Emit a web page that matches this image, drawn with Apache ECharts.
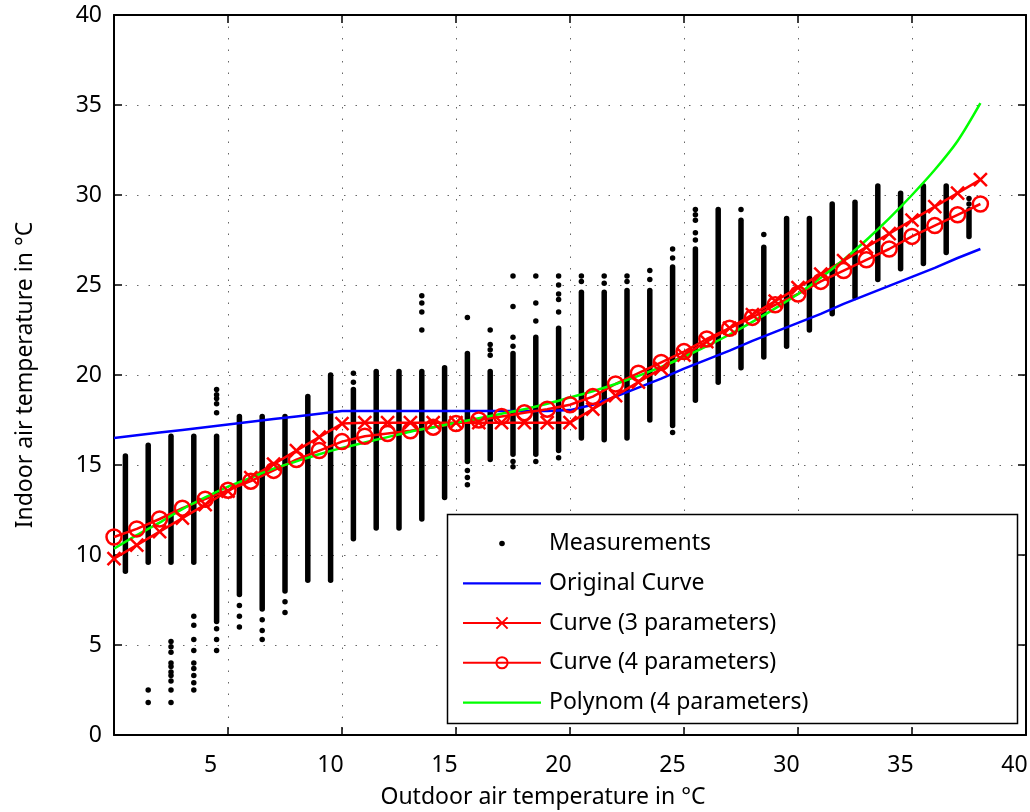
<!DOCTYPE html>
<html><head><meta charset="utf-8">
<script src="https://cdn.jsdelivr.net/npm/echarts@6/dist/echarts.min.js"></script>
<style>html,body{margin:0;padding:0;background:#fff}#c{width:1030px;height:812px}</style>
</head><body><div id="c"></div>
<script>
// ---- data ----
const measX = [0.5,1.5,2.5,3.5,4.5,5.5,6.5,7.5,8.5,9.5,10.5,11.5,12.5,13.5,14.5,15.5,16.5,17.5,18.5,19.5,20.5,21.5,22.5,23.5,24.5,25.5,26.5,27.5,28.5,29.5,30.5,31.5,32.5,33.5,34.5,35.5,36.5,37.5];
const denseLo = [9.1,9.6,9.6,9.6,6.3,7.8,7.0,8.0,8.6,8.6,10.9,11.5,11.5,12.0,13.2,15.2,15.3,15.6,15.6,15.8,16.5,16.4,16.5,17.5,17.2,18.6,19.6,20.4,21.0,21.6,22.5,23.4,24.3,25.3,25.9,26.2,26.8,27.7];
const denseHi = [15.5,16.1,16.6,16.6,16.6,17.7,17.7,17.7,18.8,20.0,19.2,20.2,20.2,20.2,20.4,21.2,20.2,21.2,22.1,22.6,24.6,24.6,24.7,24.7,26.0,27.0,29.2,28.6,27.1,28.7,28.7,29.5,29.6,30.5,30.1,30.5,30.5,29.2];
const outliers = [
  [1.5,2.5],[1.5,1.8],
  [2.5,5.2],[2.5,4.9],[2.5,4.6],[2.5,4.0],[2.5,3.8],[2.5,3.5],[2.5,3.3],[2.5,3.0],[2.5,2.5],[2.5,1.8],
  [3.5,6.6],[3.5,6.1],[3.5,5.3],[3.5,4.7],[3.5,4.0],[3.5,3.7],[3.5,3.3],[3.5,2.9],[3.5,2.5],
  [4.5,19.2],[4.5,18.9],[4.5,18.7],[4.5,18.4],[4.5,17.9],[4.5,5.9],[4.5,5.3],[4.5,4.7],
  [5.5,7.2],[5.5,6.6],[5.5,6.0],
  [6.5,6.4],[6.5,5.8],[6.5,5.3],
  [7.5,7.4],[7.5,6.8],
  [10.5,20.1],[10.5,19.6],
  [13.5,24.4],[13.5,24.0],[13.5,23.5],[13.5,22.5],
  [15.5,23.2],[15.5,14.7],[15.5,14.3],[15.5,13.9],
  [16.5,22.5],[16.5,21.7],[16.5,21.4],[16.5,21.1],
  [17.5,25.5],[17.5,23.8],[17.5,22.1],[17.5,21.6],[17.5,15.2],[17.5,14.9],
  [18.5,25.5],[18.5,24.0],[18.5,23.0],[18.5,15.2],
  [19.5,25.5],[19.5,25.0],[19.5,24.5],[19.5,24.2],[19.5,23.5],[19.5,15.4],
  [20.5,25.5],[20.5,25.2],
  [21.5,25.5],[21.5,25.1],
  [22.5,25.5],[22.5,25.2],
  [23.5,25.8],[23.5,25.3],
  [24.5,27.0],[24.5,26.5],[24.5,16.8],
  [25.5,29.2],[25.5,28.9],[25.5,28.6],[25.5,27.9],[25.5,27.5],
  [27.5,29.2],
  [28.5,27.8],
  [37.5,29.8],[37.5,29.5]
];
const curveX = [0,1,2,3,4,5,6,7,8,9,10,11,12,13,14,15,16,17,18,19,20,21,22,23,24,25,26,27,28,29,30,31,32,33,34,35,36,37,38];
const originalCurve = [16.5,16.65,16.8,16.95,17.1,17.25,17.4,17.55,17.7,17.85,18.0,18.0,18.0,18.0,18.0,18.0,18.0,18.0,18.0,18.0,18.05,18.35,18.8,19.3,19.8,20.35,20.85,21.35,21.9,22.4,22.9,23.4,23.95,24.45,24.95,25.45,25.95,26.5,27.0];
const curve3 = [9.8,10.55,11.3,12.05,12.8,13.55,14.3,15.05,15.8,16.55,17.3,17.35,17.35,17.35,17.35,17.35,17.35,17.35,17.35,17.35,17.35,18.1,18.85,19.6,20.35,21.1,21.85,22.6,23.35,24.1,24.85,25.6,26.35,27.1,27.85,28.6,29.35,30.1,30.85];
const curve4 = [11.0,11.45,12.0,12.6,13.1,13.6,14.1,14.7,15.3,15.8,16.3,16.6,16.75,16.9,17.1,17.3,17.5,17.7,17.9,18.1,18.35,18.8,19.5,20.1,20.7,21.3,22.0,22.6,23.2,23.9,24.5,25.2,25.8,26.4,27.0,27.7,28.3,28.9,29.5];
const polynom = [10.35,11.1,11.8,12.55,13.2,13.8,14.3,14.8,15.2,15.6,15.95,16.25,16.55,16.85,17.1,17.35,17.6,17.85,18.1,18.4,18.75,19.1,19.5,19.95,20.45,21.0,21.6,22.25,22.95,23.7,24.5,25.4,26.4,27.5,28.7,30.0,31.4,33.0,35.1];
const seriesNames = ['Measurements','Original Curve','Curve (3 parameters)','Curve (4 parameters)','Polynom (4 parameters)'];
const xTitle = 'Outdoor air temperature in °C';
const yTitle = 'Indoor air temperature in °C';

// ---- chart ----
const FONT = 'Noto Sans';
const FS = 23;
const LW = 2.5;
const chart = echarts.init(document.getElementById('c'), null, {renderer:'canvas'});
const zip = (xs, ys) => xs.map((x, i) => [x, ys[i]]);
const xPath = 'path://M0,0L10,10M10,0L0,10';
const dotIcon = 'path://M0,0M78,14M36.2,7a2.8,2.8 0 1 0 5.6,0a2.8,2.8 0 1 0 -5.6,0z';
const lineIcon = 'path://M0,0M78,14M0,5.9h78v2.4h-78z';
const gridLine = {show:true, lineStyle:{color:'#666', width:1, type:[1.5,10]}};
const tickIn = {show:true, inside:true, length:8, lineStyle:{color:'#000', width:1.5}};
const axLine = {show:true, onZero:false, lineStyle:{color:'#000', width:2}};

chart.setOption({
  animation:false,
  backgroundColor:'#fff',
  textStyle:{fontFamily:FONT},
  grid:{left:114, right:4, top:15, bottom:77, containLabel:false, outerBoundsMode:'none'},
  xAxis:[
    {type:'value', min:0, max:40, interval:5, position:'bottom',
     axisLine:axLine, axisTick:tickIn, splitLine:gridLine,
     axisLabel:{color:'#000', fontSize:FS, fontFamily:FONT, margin:19, showMinLabel:false, padding:[0,23,0,0],
       formatter:(v)=> String(v).length === 1 ? '{s|' + v + '}' : String(v),
       rich:{s:{color:'#000', fontSize:FS, fontFamily:FONT, padding:[0,12,0,0]}}},
     name:xTitle, nameLocation:'middle', nameGap:51,
     nameTextStyle:{color:'#000', fontSize:FS, fontFamily:FONT, padding:[0,54,0,0]}},
    {type:'value', min:0, max:40, interval:5, position:'top',
     axisLine:axLine, axisTick:tickIn, splitLine:{show:false}, axisLabel:{show:false}}
  ],
  yAxis:[
    {type:'value', min:0, max:40, interval:5, position:'left',
     axisLine:axLine, axisTick:tickIn, splitLine:gridLine,
     axisLabel:{color:'#000', fontSize:FS, fontFamily:FONT, margin:12},
     name:yTitle, nameLocation:'middle', nameGap:77, nameRotate:90,
     nameTextStyle:{color:'#000', fontSize:FS, fontFamily:FONT}},
    {type:'value', min:0, max:40, interval:5, position:'right',
     axisLine:axLine, axisTick:tickIn, splitLine:{show:false}, axisLabel:{show:false}}
  ],
  graphic:[{type:'rect', z:3, shape:{x:447.5, y:514.5, width:570, height:209},
            style:{fill:'#fff', stroke:'#000', lineWidth:1.5}}],
  legend:{
    orient:'vertical', left:462, top:532, padding:0, itemGap:16.75,
    itemWidth:78, itemHeight:14, selectedMode:false, z:5,
    textStyle:{color:'#000', fontSize:FS, fontFamily:FONT, lineHeight:22, padding:[0,0,0,3]},
    data:[
      {name:seriesNames[0], icon:dotIcon, itemStyle:{color:'#000', opacity:1}},
      {name:seriesNames[1], icon:lineIcon, itemStyle:{color:'#0000ff'}},
      seriesNames[2], seriesNames[3],
      {name:seriesNames[4], icon:lineIcon, itemStyle:{color:'#00ff00'}}
    ]
  },
  series:[
    {type:'custom', name:'dense', xAxisIndex:0, yAxisIndex:0, z:2,
     data: measX.map((x,i)=>[x, denseLo[i], denseHi[i]]),
     encode:{x:0, y:[1,2]},
     renderItem:(params, api)=>{
       const p1 = api.coord([api.value(0), api.value(1)]);
       const p2 = api.coord([api.value(0), api.value(2)]);
       return {type:'line', shape:{x1:p1[0], y1:p1[1], x2:p2[0], y2:p2[1]},
               style:{stroke:'#000', lineWidth:5.5, lineCap:'round'}};
     }},
    {type:'scatter', name:seriesNames[0], data:outliers, symbol:'circle', symbolSize:5.5,
     itemStyle:{color:'#000', opacity:1}, z:2},
    {type:'line', name:seriesNames[1], data:zip(curveX, originalCurve), symbol:'none',
     lineStyle:{color:'#0000ff', width:LW}, itemStyle:{color:'#0000ff'}, z:2},
    {type:'line', name:seriesNames[2], data:zip(curveX, curve3), symbol:xPath, symbolSize:13,
     showAllSymbol:true,
     lineStyle:{color:'#ff0000', width:LW},
     itemStyle:{color:'rgba(0,0,0,0)', borderColor:'#ff0000', borderWidth:LW}, z:2},
    {type:'line', name:seriesNames[3], data:zip(curveX, curve4), symbol:'circle', symbolSize:15,
     showAllSymbol:true,
     lineStyle:{color:'#ff0000', width:LW},
     itemStyle:{color:'rgba(0,0,0,0)', borderColor:'#ff0000', borderWidth:LW}, z:2},
    {type:'line', name:seriesNames[4], data:zip(curveX, polynom), symbol:'none', smooth:0.3,
     lineStyle:{color:'#00ff00', width:LW}, itemStyle:{color:'#00ff00'}, z:2}
  ]
});
</script></body></html>
